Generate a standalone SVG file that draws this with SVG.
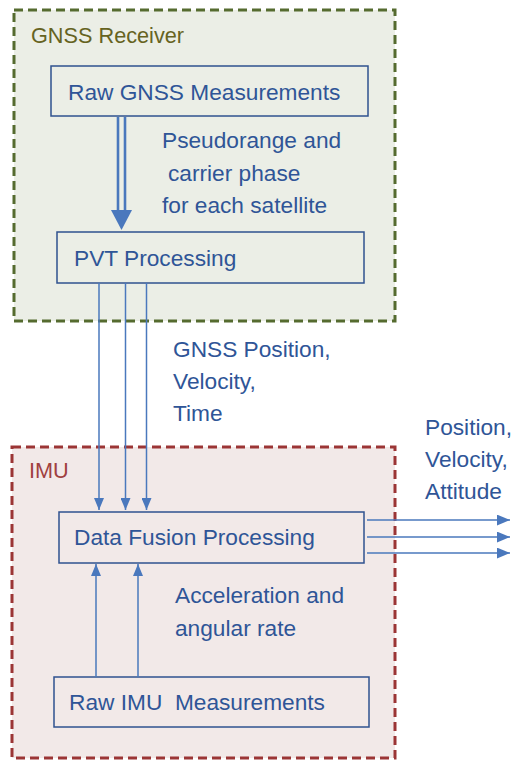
<svg xmlns="http://www.w3.org/2000/svg" width="516" height="760" viewBox="0 0 516 760">
<defs>
<style>
.t{font-family:"Liberation Sans",Arial,sans-serif;font-size:22.7px;fill:#2f5597}
.box{fill:none;stroke:#2f528f;stroke-width:1.5}
.ln{stroke:#4a78bd;stroke-width:1.5;fill:none}
</style>
<marker id="ah" viewBox="0 0 12 10" refX="12" refY="5" markerWidth="12" markerHeight="10" markerUnits="userSpaceOnUse" orient="auto">
<path d="M0,0 L12,5 L0,10 Z" fill="#4a78bd"/>
</marker>
<marker id="ah2" viewBox="0 0 12 10" refX="12" refY="5" markerWidth="13" markerHeight="11" markerUnits="userSpaceOnUse" orient="auto">
<path d="M0,0 L12,5 L0,10 Z" fill="#4a78bd"/>
</marker>
</defs>
<rect width="516" height="760" fill="#ffffff"/>
<g id="gnss-receiver">
<rect x="14" y="10" width="381" height="311" fill="#ebeee6" stroke="#556b2f" stroke-width="3" stroke-dasharray="9,5"/>
<text x="31" y="43" font-family="Liberation Sans,Arial,sans-serif" font-size="21.7" fill="#66631f">GNSS Receiver</text>
</g>
<g id="imu">
<rect x="12" y="447" width="383" height="311" fill="#f2e9e8" stroke="#9b3535" stroke-width="3" stroke-dasharray="9,5"/>
<text x="29" y="478" font-family="Liberation Sans,Arial,sans-serif" font-size="21.7" fill="#a04040">IMU</text>
</g>
<g id="raw-gnss">
<rect class="box" x="51" y="66" width="317" height="50"/>
<text class="t" x="68" y="100">Raw GNSS Measurements</text>
</g>
<g id="pvt">
<rect class="box" x="57" y="232" width="307" height="51"/>
<text class="t" x="74" y="266">PVT Processing</text>
</g>
<g id="data-fusion">
<rect class="box" x="59" y="512" width="305" height="51"/>
<text class="t" x="74" y="545">Data Fusion Processing</text>
</g>
<g id="raw-imu">
<rect class="box" x="54" y="677" width="315" height="50"/>
<text class="t" x="69" y="710" xml:space="preserve" style="white-space:pre">Raw IMU  Measurements</text>
</g>
<g id="connectors">
<line x1="118" y1="117" x2="118" y2="212" stroke="#4a78bd" stroke-width="2.6"/>
<line x1="125" y1="117" x2="125" y2="212" stroke="#4a78bd" stroke-width="2.6"/>
<path d="M111,210 L132,210 L121.5,230 Z" fill="#4a78bd"/>
<line class="ln" x1="99" y1="283" x2="99" y2="510" marker-end="url(#ah)"/>
<line class="ln" x1="125.5" y1="283" x2="125.5" y2="510" marker-end="url(#ah)"/>
<line class="ln" x1="146.5" y1="283" x2="146.5" y2="510" marker-end="url(#ah)"/>
<line class="ln" x1="96" y1="677" x2="96" y2="564" marker-end="url(#ah)"/>
<line class="ln" x1="138" y1="677" x2="138" y2="564" marker-end="url(#ah)"/>
<line class="ln" x1="367" y1="520" x2="510" y2="520" marker-end="url(#ah2)"/>
<line class="ln" x1="367" y1="537" x2="510" y2="537" marker-end="url(#ah2)"/>
<line class="ln" x1="367" y1="553" x2="510" y2="553" marker-end="url(#ah2)"/>
</g>
<g id="labels">
<text class="t" x="162" y="148">Pseudorange and</text>
<text class="t" x="168" y="181">carrier phase</text>
<text class="t" x="162" y="213">for each satellite</text>
<text class="t" x="173" y="357">GNSS Position,</text>
<text class="t" x="173" y="389">Velocity,</text>
<text class="t" x="173" y="421">Time</text>
<text class="t" x="425" y="435">Position,</text>
<text class="t" x="425" y="467">Velocity,</text>
<text class="t" x="425" y="499">Attitude</text>
<text class="t" x="175" y="603">Acceleration and</text>
<text class="t" x="175" y="636">angular rate</text>
</g>
</svg>
